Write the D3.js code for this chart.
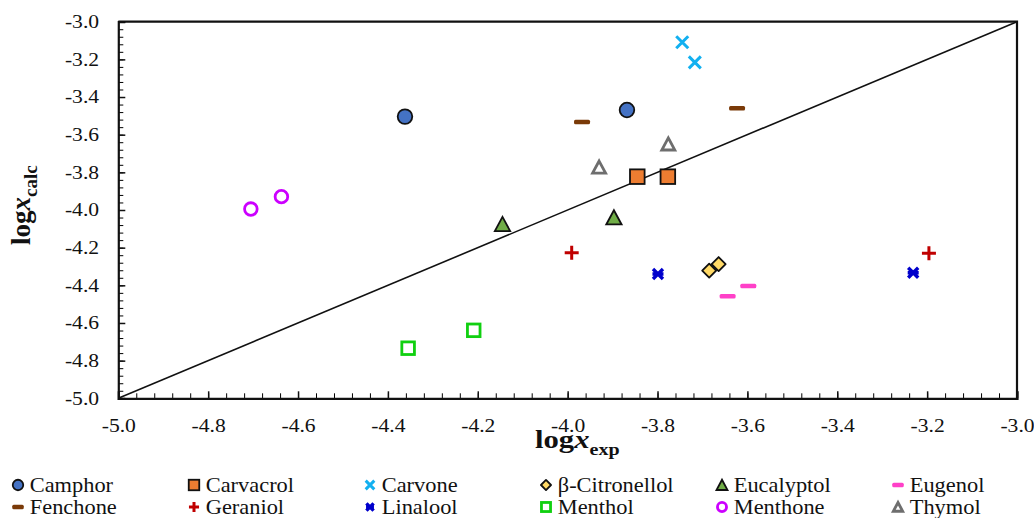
<!DOCTYPE html>
<html>
<head>
<meta charset="utf-8">
<script src="https://cdn.jsdelivr.net/npm/d3@7"></script>
<style>
  body { margin: 0; background: #fff; }
  svg { display: block; }
</style>
</head>
<body>
<svg id="chart" width="1034" height="518"></svg>
<script>
// compounds, in legend order (two rows of six)
const compounds = ["Camphor", "Carvacrol", "Carvone", "β-Citronellol", "Eucalyptol", "Eugenol",
  "Fenchone", "Geraniol", "Linalool", "Menthol", "Menthone", "Thymol"];

// experimental log x (two points per compound)
const logxExp = [
  [-4.362, -3.868], [-3.845, -3.777], [-3.745, -3.717], [-3.685, -3.664],
  [-4.145, -3.897], [-3.644, -3.598], [-3.968, -3.623], [-3.991, -3.196],
  [-3.799, -3.231], [-4.355, -4.209], [-4.705, -4.637], [-3.930, -3.776]
];

// calculated log x
const logxCalc = [
  [-3.504, -3.469], [-3.823, -3.823], [-3.109, -3.216], [-4.322, -4.287],
  [-4.075, -4.040], [-4.458, -4.404], [-3.533, -3.460], [-4.227, -4.230],
  [-4.340, -4.333], [-4.734, -4.639], [-3.995, -3.929], [-3.773, -3.650]
];

const majorTicks = [-5.0, -4.8, -4.6, -4.4, -4.2, -4.0, -3.8, -3.6, -3.4, -3.2, -3.0];

const SERIF = "Liberation Serif";

// marker style per compound
const styles = {
  "Camphor":       { shape: "circle",   fill: "#4472C4", stroke: "#111" },
  "Carvacrol":     { shape: "square",   fill: "#ED7D31", stroke: "#111" },
  "Carvone":       { shape: "cross",    fill: "none",    stroke: "#12B0F0" },
  "β-Citronellol": { shape: "diamond",  fill: "#FFD966", stroke: "#111" },
  "Eucalyptol":    { shape: "triangle", fill: "#70AD47", stroke: "#111" },
  "Eugenol":       { shape: "dash",     fill: "#FF40C8", stroke: "none" },
  "Fenchone":      { shape: "dash",     fill: "#7A3A08", stroke: "none" },
  "Geraniol":      { shape: "plus",     fill: "none",    stroke: "#C00000" },
  "Linalool":      { shape: "star",     fill: "none",    stroke: "#0000CC" },
  "Menthol":       { shape: "square",   fill: "none",    stroke: "#10D010", open: true },
  "Menthone":      { shape: "circle",   fill: "none",    stroke: "#CC00FF", open: true },
  "Thymol":        { shape: "triangle", fill: "none",    stroke: "#6E6E6E", open: true }
};

const svg = d3.select("#chart");
const x = d3.scaleLinear().domain([-5, -3]).range([118.3, 1017]);
const y = d3.scaleLinear().domain([-5, -3]).range([398.3, 21.7]);

const minorTicks = d3.range(0, 51).map(i => -5 + i * 0.04);

// minor ticks (inside)
svg.append("g")
  .attr("transform", `translate(0,${y(-5)})`)
  .call(d3.axisBottom(x).tickValues(minorTicks).tickSize(-5).tickFormat(""))
  .call(g => g.select(".domain").remove());
svg.append("g")
  .attr("transform", `translate(${x(-5)},0)`)
  .call(d3.axisLeft(y).tickValues(minorTicks).tickSize(-5).tickFormat(""))
  .call(g => g.select(".domain").remove());

// major ticks + labels
const xAxis = svg.append("g")
  .attr("transform", `translate(0,${y(-5)})`)
  .call(d3.axisBottom(x).tickValues(majorTicks).tickSize(-7).tickPadding(21).tickFormat(d3.format(".1f")));
const yAxis = svg.append("g")
  .attr("transform", `translate(${x(-5)},0)`)
  .call(d3.axisLeft(y).tickValues(majorTicks).tickSize(-7).tickPadding(16).tickFormat(d3.format(".1f")));

[xAxis, yAxis].forEach(a => {
  a.attr("font-family", null);
  a.selectAll("text")
    .style("font-family", SERIF)
    .attr("font-size", 18)
    .attr("fill", "#111")
    .attr("transform", "scale(1.2,1)")
    .text(function () { return this.textContent.replace("−", "-"); });
  a.selectAll("line").attr("stroke", "#111").attr("stroke-width", 1.5);
  a.select(".domain").attr("stroke", "#111").attr("stroke-width", 2.2);
});

// top and right border
svg.append("path")
  .attr("d", `M${x(-5)},${y(-3)}H${x(-3)}V${y(-5)}`)
  .attr("fill", "none").attr("stroke", "#111").attr("stroke-width", 2.2);

// y = x line
svg.append("line")
  .attr("x1", x(-5)).attr("y1", y(-5))
  .attr("x2", x(-3)).attr("y2", y(-3))
  .attr("stroke", "#111").attr("stroke-width", 1.6);

// marker drawing
function drawMarker(g, name, k) {
  const s = styles[name];
  switch (s.shape) {
    case "circle": {
      const r = s.open ? 6.3 * k : 7.3 * k;
      g.append("circle").attr("r", r)
        .attr("fill", s.open ? "#fff" : s.fill)
        .attr("stroke", s.stroke).attr("stroke-width", s.open ? 2.8 : 1.8);
      break;
    }
    case "square": {
      const h = s.open ? 6.3 * k : 7.3 * k;
      g.append("rect").attr("x", -h).attr("y", -h).attr("width", 2 * h).attr("height", 2 * h)
        .attr("fill", s.open ? "#fff" : s.fill)
        .attr("stroke", s.stroke).attr("stroke-width", s.open ? 2.8 : 1.8);
      break;
    }
    case "diamond": {
      const h = 7 * k;
      g.append("path").attr("d", `M0,${-h}L${h},0L0,${h}L${-h},0Z`)
        .attr("fill", s.fill).attr("stroke", s.stroke).attr("stroke-width", 1.8)
        .attr("stroke-linejoin", "round");
      break;
    }
    case "triangle": {
      const h = s.open ? 6.2 * k : 7.3 * k;
      g.append("path").attr("d", `M0,${-h}L${h * 1.05},${h * 0.95}L${-h * 1.05},${h * 0.95}Z`)
        .attr("fill", s.open ? "#fff" : s.fill)
        .attr("stroke", s.stroke).attr("stroke-width", s.open ? 2.8 : 1.8)
        .attr("stroke-linejoin", "miter");
      break;
    }
    case "dash": {
      const w = 8 * k;
      g.append("rect").attr("x", -w).attr("y", -2.2).attr("width", 2 * w).attr("height", 4.4)
        .attr("rx", 1.5).attr("fill", s.fill);
      break;
    }
    case "cross": {
      const h = 6 * k;
      g.append("path").attr("d", `M${-h},${-h}L${h},${h}M${-h},${h}L${h},${-h}`)
        .attr("stroke", s.stroke).attr("stroke-width", 3);
      break;
    }
    case "plus": {
      const h = 7 * k;
      g.append("path").attr("d", `M${-h},0H${h}M0,${-h}V${h}`)
        .attr("stroke", s.stroke).attr("stroke-width", 3);
      break;
    }
    case "star": {
      const h = 5 * k;
      g.append("path").attr("d", `M${-h},${-h}L${h},${h}M${-h},${h}L${h},${-h}M${-h * 1.1},0H${h * 1.1}`)
        .attr("stroke", s.stroke).attr("stroke-width", 3.4);
      break;
    }
  }
}

// data points
const points = compounds.flatMap((name, i) =>
  logxExp[i].map((v, j) => ({ name, xe: v, yc: logxCalc[i][j] })));

svg.append("g").selectAll("g")
  .data(points)
  .join("g")
  .attr("transform", d => `translate(${x(d.xe)},${y(d.yc)})`)
  .each(function (d) { drawMarker(d3.select(this), d.name, 1); });

// axis titles
const xTitle = svg.append("text")
  .attr("transform", "translate(535,448) scale(1.18,1)")
  .style("font-family", SERIF)
  .attr("font-weight", "bold").attr("font-size", 26).attr("fill", "#111");
xTitle.append("tspan").text("log");
xTitle.append("tspan").attr("font-style", "italic").text("x");
xTitle.append("tspan").attr("font-size", 17).attr("dy", 7).text("exp");

const yTitle = svg.append("text")
  .attr("transform", "translate(30,245) rotate(-90)")
  .style("font-family", SERIF)
  .attr("font-weight", "bold").attr("font-size", 27).attr("fill", "#111");
yTitle.append("tspan").text("log");
yTitle.append("tspan").attr("font-style", "italic").text("x");
yTitle.append("tspan").attr("font-size", 19).attr("dy", 7).text("calc");

// legend
const legend = svg.append("g").selectAll("g")
  .data(compounds)
  .join("g")
  .attr("transform", (d, i) => `translate(${18 + (i % 6) * 176},${i < 6 ? 485 : 507})`);

legend.each(function (d) { drawMarker(d3.select(this), d, 0.72); });

legend.append("text")
  .attr("x", 10.5)
  .attr("y", 6.7)
  .attr("transform", "scale(1.12,1)")
  .style("font-family", SERIF)
  .attr("font-size", 20)
  .attr("fill", "#111")
  .text(d => d);
</script>
</body>
</html>
